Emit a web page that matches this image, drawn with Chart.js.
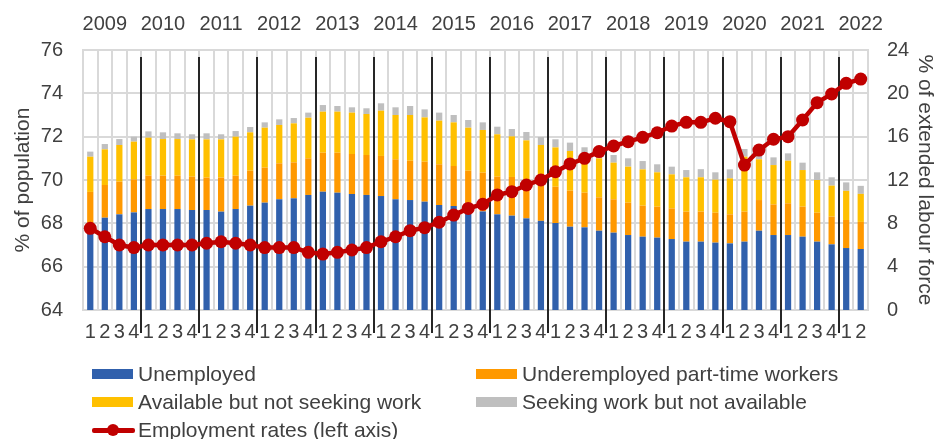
<!DOCTYPE html>
<html><head><meta charset="utf-8">
<script src="https://cdn.jsdelivr.net/npm/chart.js@4.4.1/dist/chart.umd.min.js"></script>
<style>
html,body{margin:0;padding:0;background:#fff;}
#wrap{position:relative;width:935px;height:439px;overflow:hidden;font-family:'Liberation Sans',Arial,sans-serif;}
#c{position:absolute;left:0;top:0;}
.lg{position:absolute;display:flex;align-items:center;height:28px;font-size:21px;color:#404040;white-space:nowrap;line-height:28px;}
.sw{width:41px;height:10px;margin-right:5px;}
.lsw{position:relative;width:43px;height:12px;margin-right:3px;}
.lsw .ln{position:absolute;left:0;right:0;top:4px;height:5px;background:#C00000;border-radius:2px;}
.lsw .pt{position:absolute;left:15px;top:0;width:12px;height:12px;border-radius:50%;background:#C00000;}
</style></head><body>
<div id="wrap"><canvas id="c" width="935" height="439"></canvas><div id="legend"></div></div>
<script>
const years = ['2009','2010','2011','2012','2013','2014','2015','2016','2017','2018','2019','2020','2021','2022'];
const quarters = ['1','2','3','4'];
const nCat = 54;
const categories = [];
const categoryYears = [];
for (let i = 0; i < nCat; i++) { categories.push(quarters[i % 4]); categoryYears.push(years[Math.floor(i / 4)]); }

const unemployed = [7.8,8.52,8.83,9.01,9.32,9.32,9.32,9.23,9.23,9.08,
 9.32,9.63,9.91,10.22,10.31,10.62,10.92,10.83,10.71,10.62,
 10.52,10.22,10.15,10.0,9.69,9.6,9.08,9.1,8.83,8.71,
 8.46,8.23,8.03,7.69,7.63,7.32,7.14,6.92,6.77,6.68,
 6.55,6.31,6.31,6.22,6.15,6.31,7.32,6.92,6.92,6.77,
 6.31,6.06,5.72,5.63];
const underemployed = [3.1,3.02,3.02,3.05,3.08,3.08,3.08,3.08,2.99,3.14,
 3.08,3.23,3.23,3.32,3.32,3.38,3.6,3.69,3.69,3.69,
 3.7,3.69,3.63,3.69,3.76,3.69,3.78,3.58,3.48,3.57,
 3.54,3.46,3.35,3.33,3.2,3.08,3.08,2.99,2.86,2.86,
 2.83,2.77,2.77,2.76,2.68,2.77,2.83,2.83,2.93,2.77,
 2.67,2.56,2.59,2.5];
const availableNotSeeking = [3.25,3.29,3.38,3.48,3.51,3.38,3.38,3.44,3.53,3.53,
 3.6,3.54,3.69,3.54,3.6,3.75,3.79,3.79,3.82,3.78,
 4.18,4.09,4.22,4.09,4.03,4.03,3.97,3.94,3.91,3.75,
 3.66,3.54,3.63,3.66,3.57,3.6,3.38,3.32,3.35,3.17,
 3.14,3.17,3.17,3.05,3.32,5.07,3.76,3.63,3.93,3.38,
 3.02,2.86,2.69,2.59];
const seekingNotAvailable = [0.47,0.49,0.55,0.46,0.58,0.62,0.53,0.47,0.56,0.47,
 0.52,0.49,0.49,0.52,0.49,0.47,0.61,0.52,0.49,0.53,
 0.68,0.71,0.83,0.74,0.74,0.68,0.71,0.7,0.7,0.68,
 0.77,0.74,0.75,0.77,0.62,0.77,0.71,0.77,0.77,0.74,
 0.71,0.67,0.75,0.68,0.83,0.71,0.55,0.71,0.68,0.68,
 0.71,0.77,0.78,0.74];
const employmentRate = [67.77,67.38,67.0,66.88,67.0,67.0,67.0,67.0,67.08,67.15,
 67.08,67.0,66.88,66.88,66.88,66.66,66.58,66.66,66.77,66.88,
 67.15,67.38,67.66,67.8,68.05,68.38,68.69,68.88,69.31,69.46,
 69.77,70.0,70.38,70.74,71.0,71.31,71.57,71.77,71.97,72.18,
 72.49,72.66,72.66,72.85,72.69,70.69,71.38,71.88,72.0,72.77,
 73.57,73.97,74.46,74.66];

const FONT = "'Liberation Sans', Arial, sans-serif";
const TXT = '#404040';
const GRID = '#D9D9D9';

const yearLines = {
  id: 'yearLines',
  beforeDatasetsDraw(chart) {
    const {ctx, chartArea, scales: {x}} = chart;
    ctx.save();
    ctx.strokeStyle = '#262626';
    ctx.lineWidth = 2;
    for (let i = 4; i < categories.length; i += 4) {
      const px = Math.round((x.getPixelForValue(i - 1) + x.getPixelForValue(i)) / 2);
      ctx.beginPath();
      ctx.moveTo(px, chartArea.top + 7);
      ctx.lineTo(px, chartArea.bottom + 23);
      ctx.stroke();
    }
    ctx.restore();
  }
};

const barCommon = {type: 'bar', yAxisID: 'y1', xAxisID: 'x', stack: 's', order: 1, categoryPercentage: 1.0, barPercentage: 0.43};

const chart = new Chart(document.getElementById('c'), {
  data: {
    labels: categories,
    datasets: [
      Object.assign({label: 'Unemployed', data: unemployed, backgroundColor: '#3060AC'}, barCommon),
      Object.assign({label: 'Underemployed part-time workers', data: underemployed, backgroundColor: '#FF9900'}, barCommon),
      Object.assign({label: 'Available but not seeking work', data: availableNotSeeking, backgroundColor: '#FFC000'}, barCommon),
      Object.assign({label: 'Seeking work but not available', data: seekingNotAvailable, backgroundColor: '#BFBFBF'}, barCommon),
      {type: 'line', label: 'Employment rates (left axis)', data: employmentRate, yAxisID: 'y', xAxisID: 'x', order: 0,
       borderColor: '#C00000', backgroundColor: '#C00000', borderWidth: 4.5, pointRadius: 6.5, pointBorderWidth: 0,
       pointBackgroundColor: '#C00000', tension: 0}
    ]
  },
  options: {
    responsive: false,
    animation: false,
    layout: {padding: 0},
    plugins: {legend: {display: false}, tooltip: {enabled: false}},
    scales: {
      x: {
        type: 'category', position: 'bottom', stacked: true, offset: true,
        grid: {color: GRID, lineWidth: 2, drawTicks: false, offset: true},
        border: {color: GRID, width: 2},
        ticks: {color: TXT, font: {family: FONT, size: 20}, padding: 10, autoSkip: false, maxRotation: 0, minRotation: 0},
        afterFit(s) { s.height = 129; }
      },
      x2: {
        type: 'category', position: 'top', offset: true, labels: categories,
        grid: {display: false, drawTicks: false},
        border: {display: false},
        ticks: {color: TXT, font: {family: FONT, size: 20}, padding: 14, autoSkip: false, maxRotation: 0, minRotation: 0,
          callback: (v, i) => (i % 4 === 1 ? categoryYears[i] : '')},
        afterFit(s) { s.height = 50; }
      },
      y: {
        type: 'linear', position: 'left', min: 64, max: 76,
        ticks: {stepSize: 2, color: TXT, font: {family: FONT, size: 20}, padding: 20},
        grid: {color: GRID, lineWidth: 2, drawTicks: false},
        border: {color: GRID, width: 2},
        title: {display: true, text: '% of population', color: TXT, font: {family: FONT, size: 21, lineHeight: 1}, padding: {top: 13, bottom: 0}},
        afterFit(s) { s.width = 83; }
      },
      y1: {
        type: 'linear', position: 'right', min: 0, max: 24, stacked: true,
        ticks: {stepSize: 4, color: TXT, font: {family: FONT, size: 20}, padding: 19},
        grid: {display: false, drawTicks: false},
        border: {color: GRID, width: 2},
        title: {display: true, text: '% of extended labour force', color: TXT, font: {family: FONT, size: 21, lineHeight: 1}, padding: {top: 0, bottom: 0}},
        afterFit(s) { s.width = 67; }
      }
    }
  },
  plugins: [yearLines]
});

// HTML legend built from the chart's datasets
const legendPos = [[92, 360], [476, 360], [92, 388], [476, 388], [92, 416]];
const lg = document.getElementById('legend');
chart.data.datasets.forEach((ds, i) => {
  const item = document.createElement('div');
  item.className = 'lg';
  item.style.left = legendPos[i][0] + 'px';
  item.style.top = legendPos[i][1] + 'px';
  let sw;
  if (ds.type === 'line') {
    sw = document.createElement('div');
    sw.className = 'lsw';
    sw.innerHTML = '<div class="ln"></div><div class="pt"></div>';
  } else {
    sw = document.createElement('div');
    sw.className = 'sw';
    sw.style.background = ds.backgroundColor;
  }
  const t = document.createElement('span');
  t.textContent = ds.label;
  item.appendChild(sw);
  item.appendChild(t);
  lg.appendChild(item);
});
</script>
</body></html>
